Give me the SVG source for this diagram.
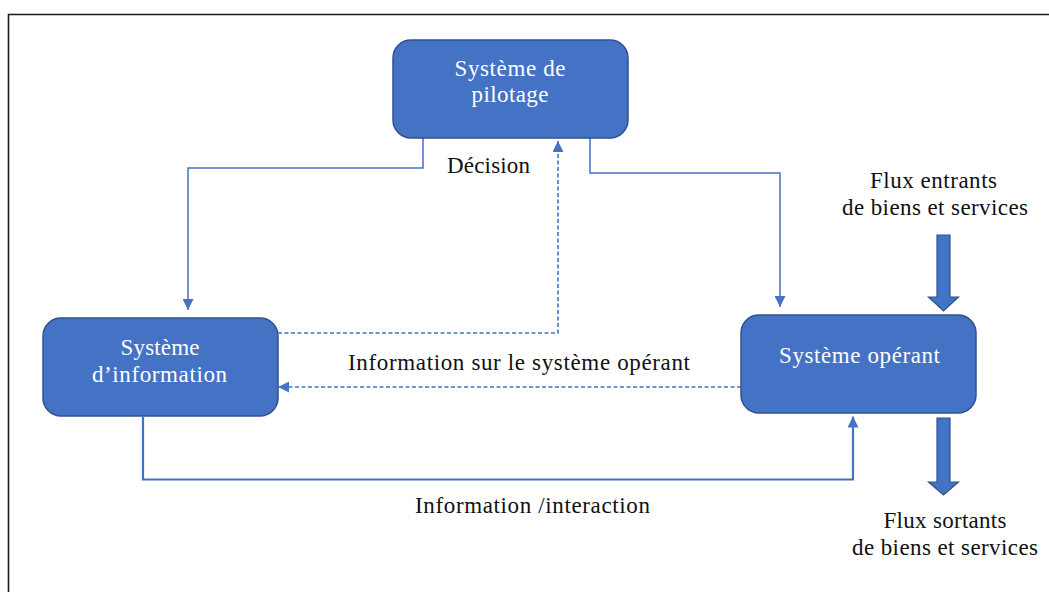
<svg xmlns="http://www.w3.org/2000/svg" width="1049" height="592" viewBox="0 0 1049 592">
  <style>
    .box { fill: #4472C4; stroke: #2F528F; stroke-width: 1.5; }
    .box-label { fill: #FFFFFF; font-family: "Liberation Serif", "Times New Roman", serif; font-size: 23px; text-anchor: middle; }
    .label { fill: #111111; font-family: "Liberation Serif", "Times New Roman", serif; font-size: 23px; text-anchor: middle; }
    .link { fill: none; stroke: #4472C4; stroke-width: 1.5; }
    .link-bold { fill: none; stroke: #4472C4; stroke-width: 2.2; }
    .dashed { fill: none; stroke: #4472C4; stroke-width: 1.6; stroke-dasharray: 4 2.5; }
    .flow { fill: #4472C4; stroke: #2F528F; stroke-width: 1.2; }
  </style>
  <defs>
    <marker id="head" viewBox="0 0 10 10" refX="10" refY="5" markerWidth="11" markerHeight="11" markerUnits="userSpaceOnUse" orient="auto">
      <path d="M0,0 L10,5 L0,10 z" fill="#4472C4"/>
    </marker>
  </defs>

  <rect width="1049" height="592" fill="#FFFFFF"/>
  <!-- outer frame -->
  <path d="M8.5,592 V14.5 H1049" fill="none" stroke="#1A1A1A" stroke-width="1.6"/>

  <g id="connectors">
    <!-- décision : pilotage vers information -->
    <path class="link" d="M423,138 V168 H188 V310" marker-end="url(#head)"/>
    <!-- pilotage vers opérant -->
    <path class="link" d="M590,138 V173 H780 V307" marker-end="url(#head)"/>
    <!-- information remontée vers le pilotage -->
    <path class="dashed" d="M278,333 H558 V141" marker-end="url(#head)"/>
    <!-- information sur le système opérant -->
    <path class="dashed" d="M741,387 H278" marker-end="url(#head)"/>
    <!-- information / interaction -->
    <path class="link-bold" d="M143,417 V479.5 H853 V416.5" marker-end="url(#head)"/>
    <!-- flux de biens et services -->
    <polygon class="flow" points="937,235 950,235 950,297 958.5,297 943.5,311 928.5,297 937,297"/>
    <polygon class="flow" points="937,418 950,418 950,482 958.5,482 943.5,495 928.5,482 937,482"/>
  </g>

  <g id="node-pilotage">
    <rect class="box" x="393" y="40" width="235" height="98" rx="18" ry="18"/>
    <text class="box-label" x="510" y="76" textLength="111" lengthAdjust="spacing">Système de</text>
    <text class="box-label" x="510" y="102" textLength="77" lengthAdjust="spacing">pilotage</text>
  </g>

  <g id="node-information">
    <rect class="box" x="43" y="318" width="235" height="98" rx="18" ry="18"/>
    <text class="box-label" x="160" y="355" textLength="79" lengthAdjust="spacing">Système</text>
    <text class="box-label" x="159.5" y="382" textLength="135" lengthAdjust="spacing">d’information</text>
  </g>

  <g id="node-operant">
    <rect class="box" x="741" y="315" width="235" height="98" rx="18" ry="18"/>
    <text class="box-label" x="859.5" y="363" textLength="161" lengthAdjust="spacing">Système opérant</text>
  </g>

  <g id="labels">
    <text class="label" x="488.5" y="173" textLength="83" lengthAdjust="spacing">Décision</text>
    <text class="label" x="519" y="370" textLength="342" lengthAdjust="spacing">Information sur le système opérant</text>
    <text class="label" x="532.5" y="513" textLength="235" lengthAdjust="spacing">Information /interaction</text>
    <text class="label" x="933.5" y="188" textLength="127" lengthAdjust="spacing">Flux entrants</text>
    <text class="label" x="935" y="215" textLength="186" lengthAdjust="spacing">de biens et services</text>
    <text class="label" x="945" y="528" textLength="123" lengthAdjust="spacing">Flux sortants</text>
    <text class="label" x="945" y="555" textLength="186" lengthAdjust="spacing">de biens et services</text>
  </g>
</svg>
